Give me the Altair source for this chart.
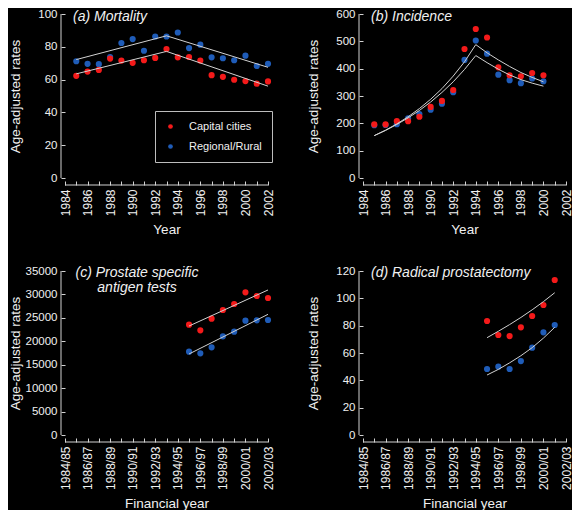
import json
import altair as alt
import pandas as pd

RED = "#f41a1a"
BLUE = "#1f5cb8"
FG = "#f0f0f0"
LINE = "#d2d2d2"
FONT = "Liberation Sans"

W, H = 203, 164

GROUPS = ["Capital cities", "Regional/Rural"]
YEAR_TICKS = list(range(1984, 2003))
FY_LABELS = ["1984/85", "1986/87", "1988/89", "1990/91", "1992/93",
             "1994/95", "1996/97", "1998/99", "2000/01", "2002/03"]

# (a) Mortality
MORT_YEARS = list(range(1985, 2003))
MORT_CAP = [62.3, 64.9, 65.9, 72.8, 71.6, 70.2, 71.8, 73.2, 78.6, 73.6,
            73.8, 71.6, 62.7, 61.7, 59.9, 59.1, 57.5, 58.9]
MORT_REG = [71.2, 69.6, 69.4, 73.8, 82.3, 84.7, 77.6, 86.3, 86.3, 88.7,
            79.2, 81.3, 73.6, 73.0, 71.8, 74.6, 68.3, 69.6]
MORT_TREND_YEARS = [1985, 1993, 2002]
MORT_TREND_CAP = [63.5, 77.2, 56.0]
MORT_TREND_REG = [72.2, 86.7, 67.5]

# (b) Incidence
INC_YEARS = list(range(1985, 2001))
INC_CAP = [196, 196, 208, 208, 224, 260, 282, 322, 472, 545, 514, 405, 376, 372, 384, 376]
INC_REG = [193, 194, 197, 218, 234, 250, 272, 314, 432, 503, 455, 378, 358, 347, 364, 354]
INC_TREND_YEARS = list(range(1985, 2001))
INC_TREND_CAP = [155, 175, 198, 224, 254, 288, 327, 373, 425, 488, 458, 432, 408, 386, 368, 352]
INC_TREND_REG = [155, 174, 196, 220, 247, 278, 313, 352, 397, 448, 422, 398, 377, 360, 347, 336]

# (c) Prostate specific antigen tests (financial year start)
PSA_YEARS = list(range(1995, 2003))
PSA_CAP = [23550, 22340, 24830, 26680, 27960, 30450, 29670, 29240]
PSA_REG = [17790, 17430, 18710, 21060, 22050, 24400, 24470, 24540]
PSA_TREND_YEARS = [1995, 2002]
PSA_TREND_CAP = [23260, 30950]
PSA_TREND_REG = [17290, 25750]

# (d) Radical prostatectomy
RP_YEARS = list(range(1995, 2002))
RP_CAP = [83.4, 73.2, 72.4, 78.8, 87.1, 95.1, 113.4]
RP_REG = [48.3, 50.0, 48.3, 54.1, 63.9, 75.1, 80.5]
RP_TREND_YEARS = list(range(1995, 2002))
RP_TREND_CAP = [71.2, 75.9, 80.8, 86.0, 91.6, 97.6, 104.1]
RP_TREND_REG = [43.9, 48.0, 52.8, 58.0, 63.9, 70.9, 78.8]


def panel(years, cap, reg, tyears, tcap, treg, ymax, ystep, xtitle, fy,
          titles, legend=None):
    n = len(years)
    pts = pd.DataFrame({
        "year": list(years) * 2,
        "rate": list(reg) + list(cap),
        "group": [GROUPS[1]] * n + [GROUPS[0]] * n,
    })
    m = len(tyears)
    trend = pd.DataFrame({
        "year": list(tyears) * 2,
        "rate": list(tcap) + list(treg),
        "grp": ["c"] * m + ["r"] * m,
    })
    if fy:
        lab = f"datum.value % 2 == 0 ? {json.dumps(FY_LABELS)}[(datum.value - 1984) / 2] : ''"
    else:
        lab = "datum.value % 2 == 0 ? datum.label : ''"
    xaxis = alt.Axis(values=YEAR_TICKS, format="d", labelExpr=lab, labelAngle=270,
                     labelFlush=False, labelOverlap=False, labelPadding=4,
                     labelFontSize=12,
                     tickSize=4, offset=3, domain=False, title=xtitle,
                     titlePadding=7)
    yaxis = alt.Axis(values=list(range(0, ymax + 1, ystep)), format="d",
                     tickSize=4, domain=False, labelPadding=4, labelFontSize=11.5,
                     title="Age-adjusted rates", titleX=-50, titleY=H / 2,
                     titleBaseline="middle", titleAngle=270)
    xenc = alt.X("year:Q", scale=alt.Scale(domain=[1984, 2002], nice=False, zero=False), axis=xaxis)
    yenc = alt.Y("rate:Q", scale=alt.Scale(domain=[0, ymax], nice=False), axis=yaxis)

    points = alt.Chart(pts).mark_circle(size=38, opacity=1).encode(
        x=xenc, y=yenc,
        color=alt.Color("group:N", scale=alt.Scale(domain=GROUPS, range=[RED, BLUE]),
                        legend=legend),
    )
    lines = alt.Chart(trend).mark_line(color=LINE, strokeWidth=1).encode(
        x=xenc, y=yenc, detail="grp:N")
    one = pd.DataFrame({"k": [0]})
    ydom = alt.Chart(one).mark_rule(color=LINE, strokeWidth=1).encode(
        x=alt.value(-4), y=alt.value(0), y2=alt.value(H))
    xdom = alt.Chart(one).mark_rule(color=LINE, strokeWidth=1).encode(
        x=alt.value(0), x2=alt.value(W), y=alt.value(H + 7))
    layers = [points, lines, ydom, xdom]
    for txt, tx, ty, al in titles:
        layers.append(
            alt.Chart(one).mark_text(align=al, baseline="alphabetic", fontStyle="italic",
                                     fontSize=14, font=FONT, color=FG).encode(
                x=alt.value(tx), y=alt.value(ty), text=alt.value(txt)))
    return alt.layer(*layers).properties(width=W, height=H)


leg = alt.Legend(orient="none", legendX=90, legendY=97, title=None,
                 strokeColor="#bdbdbd", fillColor="#000000", padding=10,
                 symbolSize=22, symbolType="circle", symbolStrokeWidth=0,
                 labelFontSize=11, labelColor=FG, labelFont=FONT,
                 labelOffset=13, rowPadding=8)

a = panel(MORT_YEARS, MORT_CAP, MORT_REG, MORT_TREND_YEARS, MORT_TREND_CAP,
          MORT_TREND_REG, 100, 20, "Year", False,
          [("(a) Mortality", 8, 7, "left")], legend=leg)
b = panel(INC_YEARS, INC_CAP, INC_REG, INC_TREND_YEARS, INC_TREND_CAP,
          INC_TREND_REG, 600, 100, "Year", False,
          [("(b) Incidence", 8, 7, "left")])
c = panel(PSA_YEARS, PSA_CAP, PSA_REG, PSA_TREND_YEARS, PSA_TREND_CAP,
          PSA_TREND_REG, 35000, 5000, "Financial year", True,
          [("(c) Prostate specific", 72, 6, "center"), ("antigen tests", 72, 21, "center")])
d = panel(RP_YEARS, RP_CAP, RP_REG, RP_TREND_YEARS, RP_TREND_CAP,
          RP_TREND_REG, 120, 20, "Financial year", True,
          [("(d) Radical prostatectomy", 8, 6, "left")])

chart = alt.concat(a, b, c, d, columns=2, spacing={"row": 28, "column": 32}).properties(
    padding=0
).configure(
    background="#000000", font=FONT
).configure_view(
    stroke=None
).configure_axis(
    grid=False,
    labelColor=FG, labelFont=FONT,
    tickColor=LINE, tickWidth=1,
    titleColor=FG, titleFont=FONT, titleFontSize=13.5, titleFontWeight="normal",
)

chart.save("out.html", embed_options={"renderer": "svg", "actions": False})
